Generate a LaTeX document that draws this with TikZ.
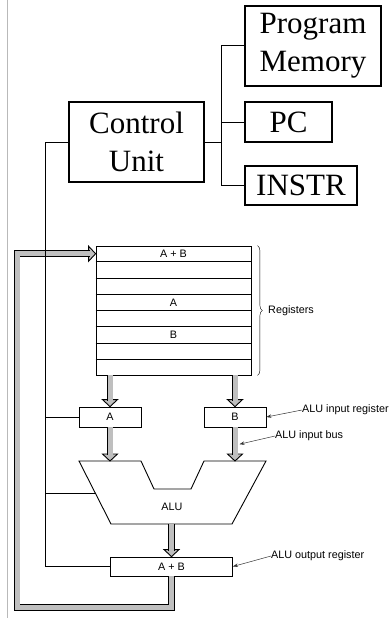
\documentclass[tikz,border=0pt]{standalone}
\usepackage{fontspec}
\setmainfont{Liberation Serif}
\newfontfamily\figsans{Liberation Sans}
\usetikzlibrary{arrows.meta,calc,decorations.pathreplacing}
\definecolor{busgray}{gray}{0.75}
\definecolor{edge}{gray}{0.2}

\begin{document}
\begin{tikzpicture}[x=1pt, y=1pt, line join=miter]
        \tikzstyle{unit}=[draw, rectangle, line width=1.1pt, inner sep=0pt, align=center, font=\fontsize{31}{38}\selectfont];
        \tikzstyle{reg}=[draw, rectangle, line width=0.8pt, inner sep=0pt, font=\figsans\fontsize{10.8}{12}\selectfont];
        \tikzstyle{txt}=[inner sep=0pt, font=\figsans\fontsize{10.8}{12}\selectfont];
        \tikzstyle{lbl}=[txt, anchor=west];
        \tikzstyle{ctl}=[line width=1pt];
        \tikzstyle{bus}=[draw=black, line width=0.9pt, double=busgray, double distance=5pt];
        \tikzstyle{pointer}=[draw=edge, line width=0.5pt, -{Stealth[length=5pt, width=3.5pt]}];
        \tikzset{pics/head/.style={code={\filldraw[fill=busgray, line width=0.9pt] (-7.5,7) -- (0,0) -- (7.5,7) -- cycle;}}};

        \useasboundingbox (0,0) rectangle (388,-618);
        \draw[gray!55, line width=0.8pt] (7,0) -- (7,-618);

        % control unit and its memories
        \node[unit, minimum width=135pt, minimum height=80pt] (cu) at (136.5,-142) {Control\\Unit};
        \node[unit, minimum width=136pt, minimum height=80pt] (pm) at (313,-46) {Program\\Memory};
        \node[unit, minimum width=87pt, minimum height=40pt] (pc) at (288.5,-122) {PC};
        \node[unit, minimum width=112pt, minimum height=39pt] (instr) at (301,-185.5) {INSTR};
        \coordinate (split) at (221,-142);

        \draw[ctl] (cu.east) -- (split);
        \draw[ctl] (pm.west) -| (split |- instr.west) -- (instr.west);
        \draw[ctl] (pc.west) -- (pc.west -| split);

        % data path
        \node[reg, minimum width=155pt, minimum height=129pt] (regs) at (173.5,-310.5) {};
        \foreach \k in {1,...,7}
            \draw[line width=0.8pt] ($(regs.north west)!\k/8!(regs.south west)$) -- ($(regs.north east)!\k/8!(regs.south east)$);
        \node[txt] (r1) at ($(regs.north)!1/16!(regs.south)$) {A + B};
        \node[txt] (r4) at ($(regs.north)!7/16!(regs.south)$) {A};
        \node[txt] (r6) at ($(regs.north)!11/16!(regs.south)$) {B};

        \coordinate (bt) at ($(regs.north east)+(6,0)$);
        \coordinate (bb) at ($(regs.south east)+(6,0)$);
        \draw[decorate, decoration={brace, amplitude=5pt}, line width=0.4pt] (bt) -- (bb);
        \node[lbl] (regname) at (268,-311) {Registers};

        \node[reg, minimum width=62pt, minimum height=20pt] (inA) at (110,-417) {A};
        \node[reg, minimum width=62pt, minimum height=20pt] (inB) at (235,-417) {B};
        \node[reg, minimum width=122pt, minimum height=19pt] (outR) at (171.5,-566.5) {A + B};

        \coordinate (a1) at (79,-461);
        \coordinate (a2) at (141,-461);
        \coordinate (a3) at (154,-489);
        \coordinate (a4) at (191,-489);
        \coordinate (a5) at (204,-461);
        \coordinate (a6) at (266,-461);
        \coordinate (a7) at (232,-524);
        \coordinate (a8) at (111,-524);
        \draw[line width=0.9pt] (a1) -- (a2) -- (a3) -- (a4) -- (a5) -- (a6) -- (a7) -- (a8) -- cycle;
        \node[txt] (alu) at (172,-507) {ALU};
        \coordinate (ainL) at ($(a1)!0.5!(a2)$);
        \coordinate (ainR) at ($(a5)!0.5!(a6)$);
        \coordinate (aout) at ($(a7)!0.5!(a8)$);
        \coordinate (aluCtl) at ($(a1)!0.52!(a8)$);
        \coordinate (loop) at (17,-607.5);

        \pic at (inA.north) {head};
        \pic at (inB.north) {head};
        \pic at (ainL) {head};
        \pic at (ainR) {head};
        \pic at (outR.north) {head};
        \pic[rotate=90] at (regs.west |- r1) {head};
        \draw[bus, shorten >=6pt] (regs.south -| inA) -- (inA.north);
        \draw[bus, shorten >=6pt] (regs.south -| inB) -- (inB.north);
        \draw[bus, shorten >=6pt] (inA.south) -- (ainL);
        \draw[bus, shorten >=6pt] (inB.south) -- (ainR);
        \draw[bus, shorten >=6pt] (aout) -- (outR.north);
        \draw[bus, shorten >=6pt] (outR.south) |- (loop) |- (regs.west |- r1);

        % control lines
        \coordinate (trunk) at (45,-142);
        \draw[ctl] (cu.west) -- (trunk) -- (trunk |- outR.west) -- (outR.west);
        \draw[ctl] (trunk |- inA.west) -- (inA.west);
        \draw[ctl] (trunk |- aluCtl) -- (aluCtl);

        % labels
        \node[lbl] (inlbl) at (302,-410) {ALU input register};
        \node[lbl] (buslbl) at (275,-436) {ALU input bus};
        \node[lbl] (outlbl) at (271,-556) {ALU output register};
        \coordinate (busB) at ($(inB.south)!0.5!(ainR)+(4.5,0)$);
        \draw[pointer] (inlbl.west) -- (inB.east);
        \draw[pointer] (buslbl.west) -- (busB);
        \draw[pointer] (outlbl.west) -- (outR.east);
    \end{tikzpicture}
\end{document}
